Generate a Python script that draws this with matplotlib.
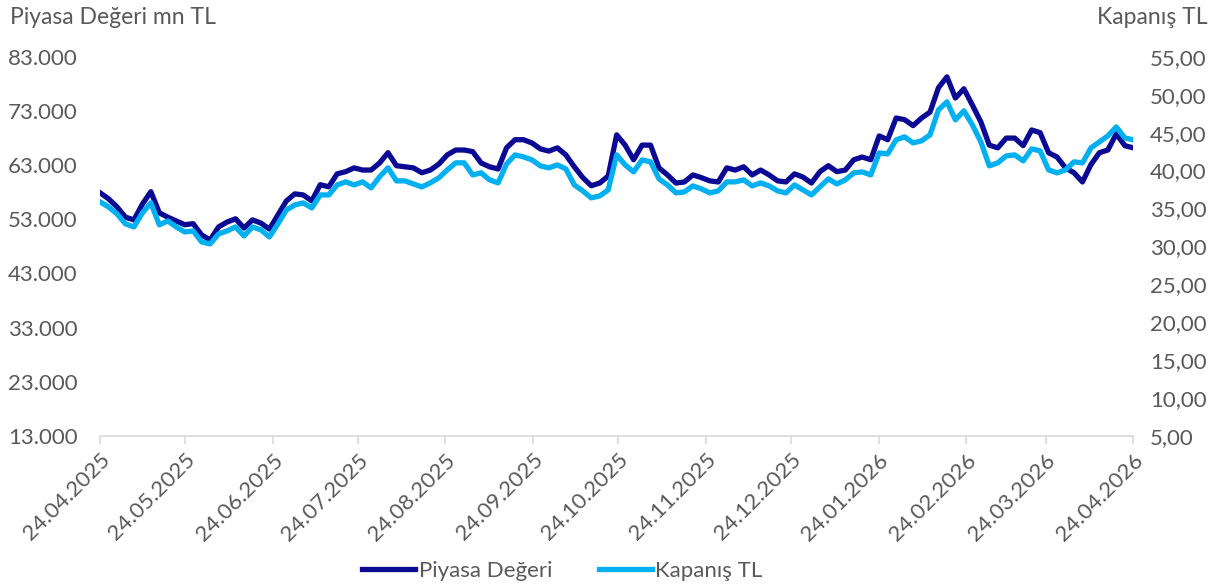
import matplotlib
matplotlib.use("Agg")
import matplotlib.pyplot as plt
import matplotlib.dates as mdates
from matplotlib.ticker import FuncFormatter
import pandas as pd

plt.rcParams['font.family'] = ['Lato', 'DejaVu Sans']

# readings every ~3 days, 24.04.2025 -> 24.04.2026
dates = pd.date_range('2025-04-24', '2026-04-24', periods=123)

piyasa_degeri = [
    57900, 56800, 55300, 53400, 52900, 55800, 58100, 54200, 53400, 52700,
    52000, 52200, 50100, 49200, 51600, 52500, 53100, 51400, 52900, 52300,
    51200, 53800, 56400, 57700, 57500, 56400, 59400, 59000, 61400, 61800,
    62500, 62100, 62100, 63400, 65300, 62900, 62700, 62500, 61600, 62100,
    63200, 64900, 65800, 65800, 65500, 63400, 62700, 62300, 66200, 67700,
    67700, 67100, 66000, 65600, 66200, 64900, 62700, 60700, 59200, 59700,
    61000, 68600, 66700, 64000, 66700, 66700, 62500, 61200, 59700, 59900,
    61200, 60700, 60100, 59900, 62500, 62100, 62700, 61200, 62100, 61200,
    60100, 59900, 61400, 60800, 59700, 61800, 62900, 61800, 62100, 64000,
    64500, 64000, 68400, 67700, 71700, 71400, 70300, 71700, 72800, 77300,
    79300, 75400, 77100, 74100, 71000, 66700, 66200, 68000, 68000, 66600,
    69500, 69000, 65300, 64500, 62500, 61600, 59900, 63100, 65300, 65800,
    68800, 66600, 66200,
]

kapanis = [
    35.87, 35.21, 34.29, 32.97, 32.57, 34.42, 35.74, 32.84, 33.36, 32.57,
    31.91, 32.04, 30.59, 30.33, 31.65, 32.04, 32.57, 31.38, 32.57, 32.18,
    31.25, 32.97, 34.81, 35.47, 35.74, 35.08, 36.79, 36.79, 38.11, 38.51,
    38.11, 38.51, 37.72, 39.17, 40.36, 38.64, 38.64, 38.24, 37.85, 38.38,
    39.04, 40.09, 41.02, 41.02, 39.43, 39.70, 38.77, 38.38, 40.88, 42.07,
    41.81, 41.41, 40.62, 40.36, 40.75, 40.22, 38.11, 37.32, 36.40, 36.66,
    37.45, 42.07, 40.75, 39.83, 41.41, 41.15, 38.90, 38.11, 37.06, 37.19,
    37.98, 37.59, 37.06, 37.32, 38.51, 38.51, 38.77, 37.98, 38.38, 37.98,
    37.32, 37.06, 38.11, 37.45, 36.79, 37.85, 38.90, 38.24, 38.77, 39.70,
    39.83, 39.43, 42.33, 42.20, 44.05, 44.45, 43.65, 43.92, 44.71, 48.01,
    49.06, 46.69, 47.88, 46.03, 43.79, 40.62, 41.02, 41.94, 42.07, 41.28,
    42.86, 42.60, 40.09, 39.70, 40.09, 41.15, 41.02, 42.99, 43.79, 44.58,
    45.76, 44.31, 44.05,
]

tick_dates = pd.date_range('2025-04-01', '2026-04-01', freq='MS') + pd.Timedelta(days=23)
left_ticks = list(range(13000, 83001, 10000))
right_ticks = [5, 10, 15, 20, 25, 30, 35, 40, 45, 50, 55]

dark = '#0a0a94'
light = '#00b0f0'
grey = '#595959'
fs = 16

fig = plt.figure(figsize=(12.17, 5.86), dpi=100)
ax = fig.add_axes([0.0822, 0.256, 0.849, 0.647])
ax2 = ax.twinx()

l1, = ax.plot(dates, piyasa_degeri, color=dark, lw=3.8, solid_joinstyle='round')
l2, = ax2.plot(dates, kapanis, color=light, lw=3.8, solid_joinstyle='round')

ax.set_ylim(13000, 83000)
ax.set_yticks(left_ticks)
ax.yaxis.set_major_formatter(FuncFormatter(lambda v, p: f"{v:,.0f}".replace(',', '.')))
ax2.set_ylim(5, 55)
ax2.set_yticks(right_ticks)
ax2.yaxis.set_major_formatter(FuncFormatter(lambda v, p: f"{v:.2f}".replace('.', ',')))

ax.set_xlim(pd.Timestamp('2025-04-24'), pd.Timestamp('2026-04-24'))
ax.set_xticks(tick_dates)
ax.xaxis.set_major_formatter(mdates.DateFormatter('%d.%m.%Y'))
for lab in ax.get_xticklabels():
    lab.set_rotation(45)
    lab.set_rotation_mode('anchor')
    lab.set_ha('right')
    lab.set_va('top')

for a in (ax, ax2):
    for s in a.spines.values():
        s.set_visible(False)
    a.tick_params(axis='y', length=0, labelsize=fs, labelcolor=grey)
ax.tick_params(axis='y', pad=16)
ax2.tick_params(axis='y', pad=12)
ax.spines['bottom'].set_visible(True)
ax.spines['bottom'].set_color('#d9d9d9')
ax.spines['bottom'].set_linewidth(1.2)
ax.tick_params(axis='x', length=6, width=1.2, color='#d9d9d9', labelsize=fs, labelcolor=grey, pad=4)

fig.text(0.008, 0.97, 'Piyasa Değeri mn TL', fontsize=fs + 0.5, color=grey, ha='left', va='center')
fig.text(0.992, 0.97, 'Kapanış TL', fontsize=fs + 0.5, color=grey, ha='right', va='center')

fig.legend([l1, l2], ['Piyasa Değeri', 'Kapanış TL'], loc='lower center', bbox_to_anchor=(0.462, -0.025),
           ncol=2, frameon=False, fontsize=fs, labelcolor=grey, handlelength=2.4,
           handletextpad=0.15, columnspacing=2.1)

fig.savefig('out.png', dpi=100)
